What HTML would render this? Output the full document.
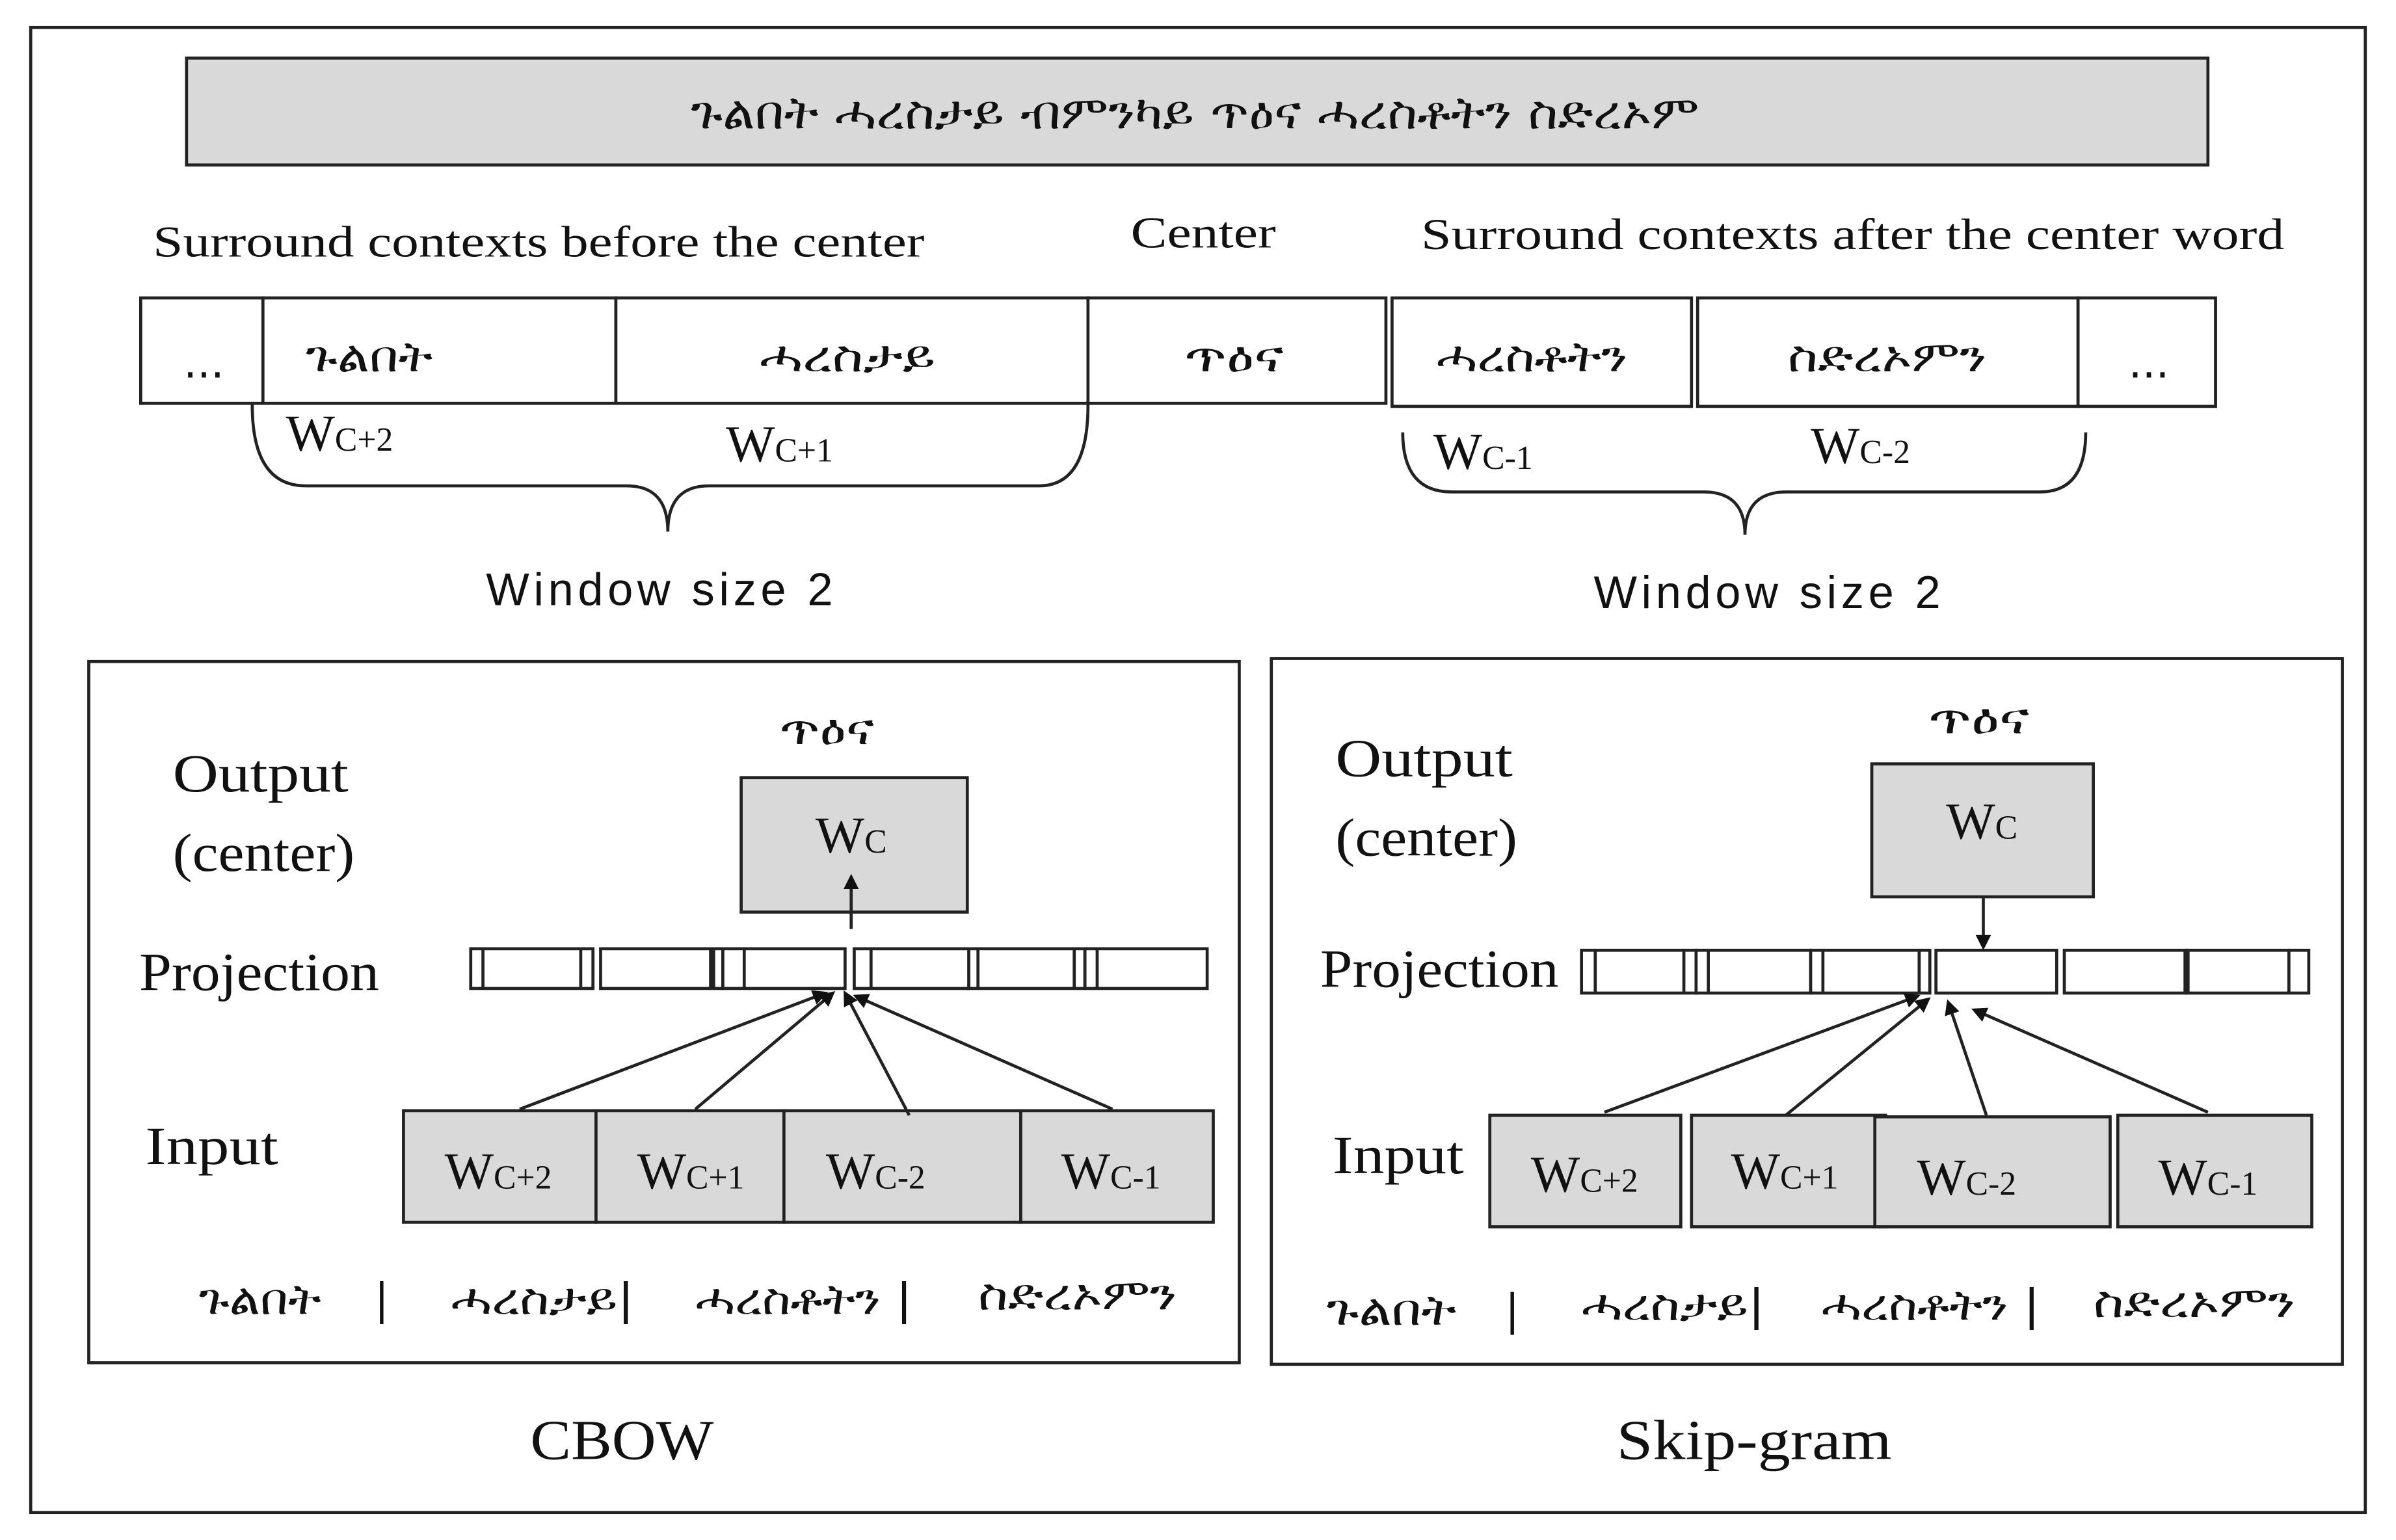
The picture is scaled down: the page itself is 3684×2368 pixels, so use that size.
<!DOCTYPE html>
<html><head><meta charset="utf-8"><style>
html,body{margin:0;padding:0;background:#fff;}
svg{display:block;}
.s{font-family:"Liberation Serif","DejaVu Serif",serif;fill:#111;}
.a{font-family:"Liberation Sans","DejaVu Sans",sans-serif;fill:#111;}
.e{font-family:"DejaVu Sans","Liberation Sans",sans-serif;fill:#111;}
</style></head><body>
<svg width="3684" height="2368" viewBox="0 0 1568 1008" xmlns="http://www.w3.org/2000/svg">
<defs><marker id="ah" markerWidth="10" markerHeight="10" refX="8" refY="5" orient="auto" markerUnits="userSpaceOnUse" viewBox="0 0 10 10"><path d="M0,0 L10,5 L0,10 z" fill="#111"/></marker></defs>
<rect x="0" y="0" width="1568" height="1008" fill="#fff"/>
<rect x="20" y="18" width="1528" height="972" fill="none" stroke="#222" stroke-width="2"/>
<rect x="122" y="38" width="1323" height="70" fill="#d9d9d9" stroke="#222" stroke-width="2"/>
<text x="452" y="84" class="e" font-size="30" textLength="660" lengthAdjust="spacingAndGlyphs">ጉልበት ሓረስታይ ብምንካይ ጥዕና ሓረስቶትን ስድረኦም</text>
<text x="100" y="168" class="s" font-size="29" textLength="505" lengthAdjust="spacingAndGlyphs">Surround contexts before the center</text>
<text x="740" y="162" class="s" font-size="29" textLength="95" lengthAdjust="spacingAndGlyphs">Center</text>
<text x="930" y="163" class="s" font-size="29" textLength="565" lengthAdjust="spacingAndGlyphs">Surround contexts after the center word</text>
<g fill="#fff" stroke="#222" stroke-width="2">
<rect x="92" y="195" width="80" height="69"/><rect x="172" y="195" width="231" height="69"/><rect x="403" y="195" width="309" height="69"/><rect x="712" y="195" width="195" height="69"/>
<rect x="911" y="195" width="196" height="71"/><rect x="1111" y="195" width="249" height="71"/><rect x="1360" y="195" width="90" height="71"/>
</g>
<g class="e" font-size="28" lengthAdjust="spacingAndGlyphs">
<text x="120" y="247">...</text>
<text x="200" y="243" textLength="83" lengthAdjust="spacingAndGlyphs">ጉልበት</text>
<text x="497" y="243" textLength="115" lengthAdjust="spacingAndGlyphs">ሓረስታይ</text>
<text x="775" y="243" textLength="65" lengthAdjust="spacingAndGlyphs">ጥዕና</text>
<text x="940" y="243" textLength="125" lengthAdjust="spacingAndGlyphs">ሓረስቶትን</text>
<text x="1170" y="243" textLength="130" lengthAdjust="spacingAndGlyphs">ስድረኦምን</text>
<text x="1393" y="247">...</text></g>
<g class="s" font-size="34"><text x="187" y="295">W<tspan font-size="22">C+2</tspan></text><text x="475" y="302">W<tspan font-size="22">C+1</tspan></text>
<text x="938" y="307">W<tspan font-size="22">C-1</tspan></text><text x="1185" y="303">W<tspan font-size="22">C-2</tspan></text></g>
<g fill="none" stroke="#222" stroke-width="2">
<path d="M165,265 Q165,318 200,318 L410,318 Q437,318 437,348 Q437,318 464,318 L680,318 Q712,318 712,265"/>
<path d="M918,283 Q918,322 950,322 L1115,322 Q1142,322 1142,350 Q1142,322 1169,322 L1335,322 Q1365,322 1365,283"/>
</g>
<text x="318" y="396" class="a" font-size="30" textLength="227" lengthAdjust="spacing">Window  size  2</text>
<text x="1043" y="398" class="a" font-size="30" textLength="227" lengthAdjust="spacing">Window  size  2</text>
<rect x="58" y="433" width="753" height="459" fill="none" stroke="#222" stroke-width="2"/>
<rect x="832" y="431" width="701" height="462" fill="none" stroke="#222" stroke-width="2"/>
<!-- CBOW -->
<g class="s" font-size="35"><text x="113" y="518" textLength="115" lengthAdjust="spacingAndGlyphs">Output</text><text x="113" y="570" textLength="119" lengthAdjust="spacingAndGlyphs">(center)</text><text x="91" y="648" textLength="157" lengthAdjust="spacingAndGlyphs">Projection</text><text x="95" y="762" textLength="87" lengthAdjust="spacingAndGlyphs">Input</text></g>
<text x="510" y="487" class="e" font-size="28" textLength="62" lengthAdjust="spacingAndGlyphs">ጥዕና</text>
<rect x="485" y="509" width="148" height="88" fill="#d9d9d9" stroke="#222" stroke-width="2"/>
<text x="557" y="558" class="s" font-size="34" text-anchor="middle">W<tspan font-size="22">C</tspan></text>
<g fill="#fff" stroke="#222" stroke-width="2">
<rect x="308" y="621" width="80" height="26"/><rect x="393" y="621" width="80" height="26"/><rect x="473" y="621" width="80" height="26"/><rect x="559" y="621" width="75" height="26"/><rect x="634" y="621" width="76" height="26"/><rect x="710" y="621" width="80" height="26"/>
</g>
<g stroke="#222" stroke-width="2"><line x1="316" y1="621" x2="316" y2="647"/><line x1="380" y1="621" x2="380" y2="647"/><line x1="466" y1="621" x2="466" y2="647" stroke-width="4"/><line x1="487" y1="621" x2="487" y2="647"/><line x1="570" y1="621" x2="570" y2="647"/><line x1="640" y1="621" x2="640" y2="647"/><line x1="703" y1="621" x2="703" y2="647"/><line x1="718" y1="621" x2="718" y2="647"/></g>
<g fill="#d9d9d9" stroke="#222" stroke-width="2">
<rect x="264" y="727" width="126" height="73"/><rect x="390" y="727" width="123" height="73"/><rect x="513" y="727" width="155" height="73"/><rect x="668" y="727" width="126" height="73"/></g>
<g class="s" font-size="34" text-anchor="middle"><text x="326" y="778">W<tspan font-size="22">C+2</tspan></text><text x="452" y="778">W<tspan font-size="22">C+1</tspan></text><text x="573" y="778">W<tspan font-size="22">C-2</tspan></text><text x="727" y="778">W<tspan font-size="22">C-1</tspan></text></g>
<g stroke="#222" stroke-width="2" marker-end="url(#ah)">
<line x1="340" y1="726" x2="540" y2="650"/><line x1="455" y1="726" x2="545" y2="650"/><line x1="595" y1="730" x2="553" y2="650"/><line x1="728" y1="726" x2="560" y2="652"/><line x1="557" y1="608" x2="557" y2="574"/></g>
<g class="e" font-size="28"><text x="130" y="860" textLength="80" lengthAdjust="spacingAndGlyphs">ጉልበት</text><text x="245" y="860">|</text><text x="295" y="860" textLength="120" lengthAdjust="spacingAndGlyphs">ሓረስታይ|</text><text x="455" y="860" textLength="142" lengthAdjust="spacingAndGlyphs">ሓረስቶትን |</text><text x="640" y="857" textLength="130" lengthAdjust="spacingAndGlyphs">ስድረኦምን</text></g>
<text x="347" y="955" class="s" font-size="37" textLength="120" lengthAdjust="spacingAndGlyphs">CBOW</text>
<!-- Skip -->
<g class="s" font-size="35"><text x="874" y="508" textLength="116" lengthAdjust="spacingAndGlyphs">Output</text><text x="874" y="560" textLength="119" lengthAdjust="spacingAndGlyphs">(center)</text><text x="864" y="646" textLength="156" lengthAdjust="spacingAndGlyphs">Projection</text><text x="872" y="768" textLength="86" lengthAdjust="spacingAndGlyphs">Input</text></g>
<text x="1262" y="480" class="e" font-size="28" textLength="66" lengthAdjust="spacingAndGlyphs">ጥዕና</text>
<rect x="1225" y="500" width="145" height="87" fill="#d9d9d9" stroke="#222" stroke-width="2"/>
<text x="1297" y="549" class="s" font-size="34" text-anchor="middle">W<tspan font-size="22">C</tspan></text>
<g fill="#fff" stroke="#222" stroke-width="2">
<rect x="1035" y="622" width="75" height="28"/><rect x="1110" y="622" width="75" height="28"/><rect x="1185" y="622" width="78" height="28"/><rect x="1267" y="622" width="79" height="28"/><rect x="1351" y="622" width="80" height="28"/><rect x="1431" y="622" width="80" height="28"/></g>
<g stroke="#222" stroke-width="2"><line x1="1044" y1="622" x2="1044" y2="650"/><line x1="1102" y1="622" x2="1102" y2="650"/><line x1="1118" y1="622" x2="1118" y2="650"/><line x1="1193" y1="622" x2="1193" y2="650"/><line x1="1256" y1="622" x2="1256" y2="650"/><line x1="1431" y1="622" x2="1431" y2="650" stroke-width="4"/><line x1="1498" y1="622" x2="1498" y2="650"/></g>
<g stroke="#222" stroke-width="2" marker-end="url(#ah)"><line x1="1298" y1="587" x2="1298" y2="620"/>
<line x1="1050" y1="728" x2="1255" y2="652"/><line x1="1165" y1="733" x2="1262" y2="654"/><line x1="1300" y1="730" x2="1275" y2="656"/><line x1="1445" y1="728" x2="1292" y2="661"/></g>
<g fill="#d9d9d9" stroke="#222" stroke-width="2">
<rect x="975" y="730" width="125" height="73"/><rect x="1107" y="730" width="127" height="73"/><rect x="1227" y="731" width="154" height="72"/><rect x="1386" y="730" width="127" height="73"/></g>
<g class="s" font-size="34" text-anchor="middle"><text x="1037" y="780">W<tspan font-size="22">C+2</tspan></text><text x="1168" y="778">W<tspan font-size="22">C+1</tspan></text><text x="1287" y="782">W<tspan font-size="22">C-2</tspan></text><text x="1445" y="782">W<tspan font-size="22">C-1</tspan></text></g>
<g class="e" font-size="28"><text x="868" y="867" textLength="85" lengthAdjust="spacingAndGlyphs">ጉልበት</text><text x="985" y="867">|</text><text x="1035" y="864" textLength="120" lengthAdjust="spacingAndGlyphs">ሓረስታይ|</text><text x="1192" y="864" textLength="143" lengthAdjust="spacingAndGlyphs">ሓረስቶትን |</text><text x="1370" y="862" textLength="132" lengthAdjust="spacingAndGlyphs">ስድረኦምን</text></g>
<text x="1058" y="955" class="s" font-size="37" textLength="180" lengthAdjust="spacingAndGlyphs">Skip-gram</text>
</svg>
</body></html>
